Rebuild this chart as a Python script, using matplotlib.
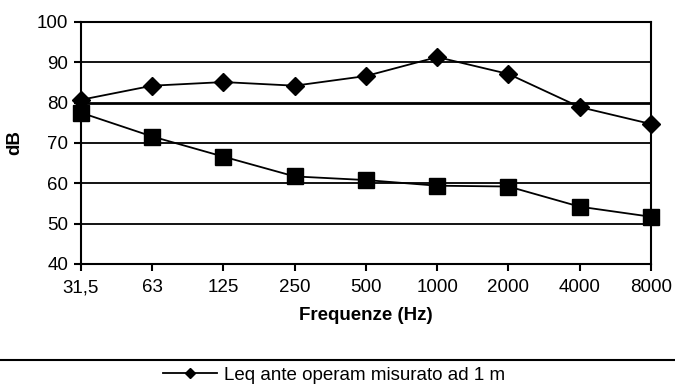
import matplotlib.pyplot as plt
from matplotlib.lines import Line2D

# octave band centres and measured levels
freq_labels = ["31,5", "63", "125", "250", "500", "1000", "2000", "4000", "8000"]
leq_1m = [80.7, 84.2, 85.1, 84.2, 86.6, 91.3, 87.1, 78.9, 74.7]
leq_second = [77.5, 71.6, 66.6, 61.7, 60.8, 59.4, 59.2, 54.2, 51.7]
legend_name = "Leq ante operam misurato ad 1 m"

plt.rcParams['font.family'] = ['Liberation Sans', 'DejaVu Sans']

fig = plt.figure(figsize=(6.75, 3.87), dpi=100)
ax = fig.add_axes([0.12, 0.318, 0.8444, 0.6252])

x = list(range(len(freq_labels)))
l1, = ax.plot(x, leq_1m, color='black', lw=1.3, marker='D', markersize=9, clip_on=False, zorder=4)
l2, = ax.plot(x, leq_second, color='black', lw=1.3, marker='s', markersize=11, clip_on=False, zorder=4)

ax.set_xlim(0, len(freq_labels) - 1)
ax.set_ylim(40, 100)
ax.set_yticks(range(40, 101, 10))
ax.set_xticks(x)
ax.set_xticklabels(freq_labels)
for v in range(50, 101, 10):
    ax.axhline(v, color='black', lw=2.0 if v == 80 else 1.3, zorder=1)

for s in ax.spines.values():
    s.set_linewidth(1.5)
ax.tick_params(axis='both', direction='out', length=5, width=1.5, labelsize=13.5, pad=4)
ax.tick_params(axis='x', pad=6)
ax.set_xlabel("Frequenze (Hz)", fontsize=13.5, fontweight='bold', labelpad=8)
ax.set_ylabel("dB", fontsize=13.5, fontweight='bold', labelpad=10)

# legend frame top edge runs across the figure
fig.add_artist(Line2D([0.0, 1.0], [1 - 360 / 387, 1 - 360 / 387], transform=fig.transFigure,
                      color='black', lw=1.5))
leg = fig.legend([l1], [legend_name], loc='center left', bbox_to_anchor=(163 / 675, 1 - 375 / 387),
                 frameon=False, handlelength=2.9, handletextpad=0.35,
                 borderaxespad=0, borderpad=0,
                 prop={'family': ['Liberation Sans', 'DejaVu Sans'], 'size': 13.5})
for h in leg.legend_handles:
    h.set_markersize(5)

fig.savefig("out.png", dpi=100)
